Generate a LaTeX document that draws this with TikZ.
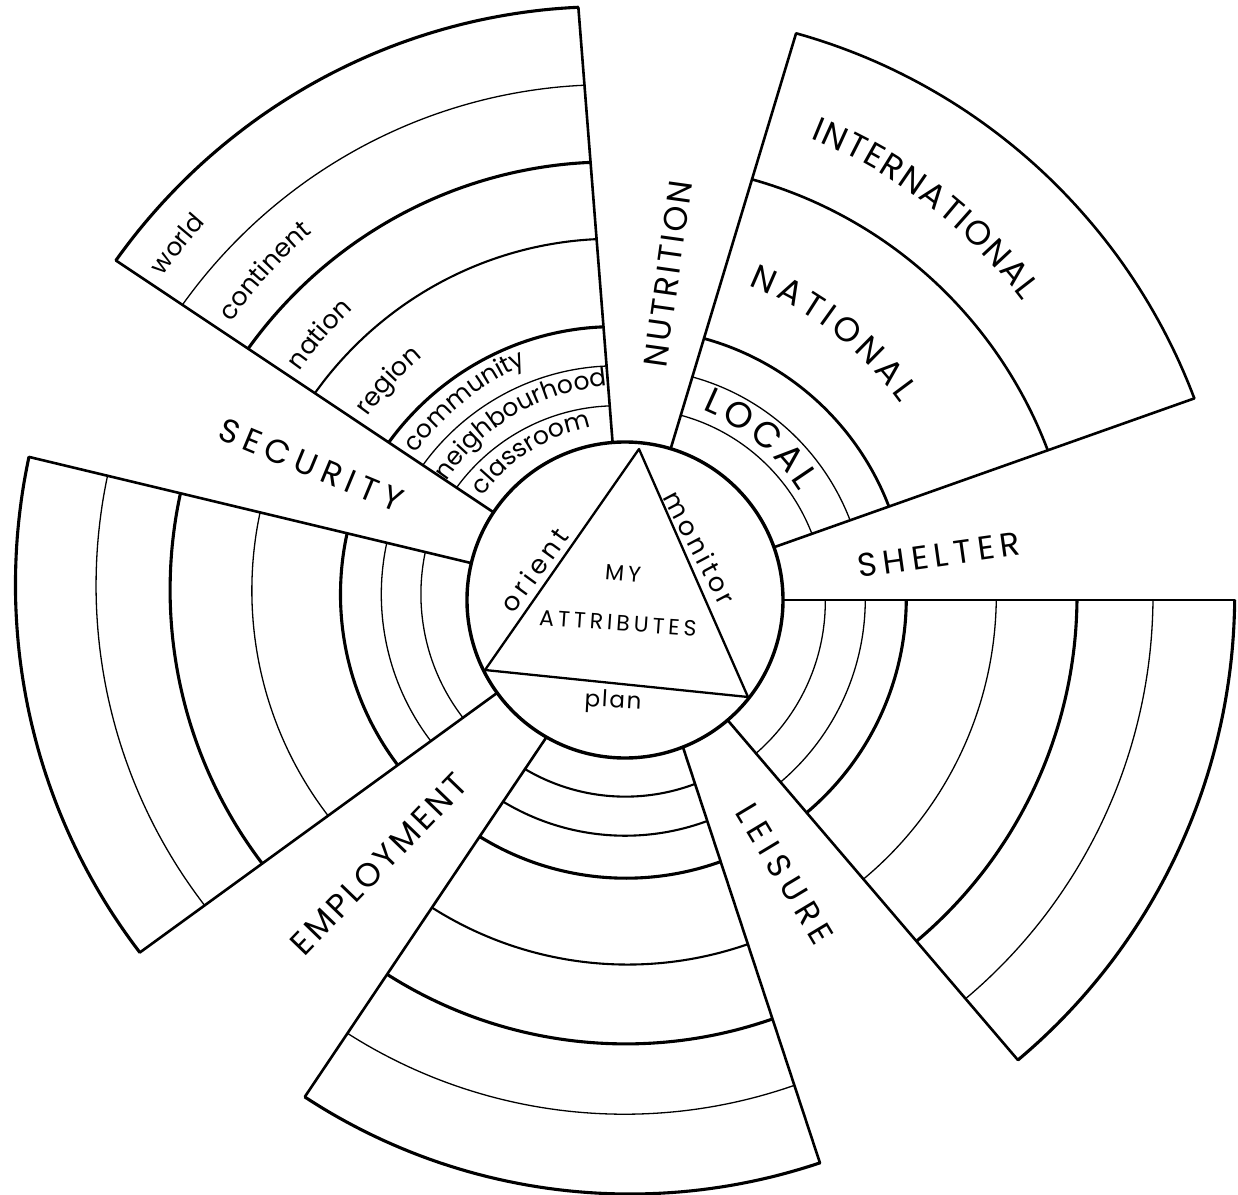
\documentclass[tikz,border=0pt]{standalone}
\usepackage{fontspec}
\IfFontExistsTF{Poppins}{\setmainfont{Poppins}}{\setmainfont{DejaVu Sans}}
\usetikzlibrary{decorations.text,calc}
% arc around the hub whose radius changes linearly from #3 (at angle #1) to #4 (at angle #2)
\newcommand\ringarc[5]{%
  \draw[#5] plot[domain=#1:#2, samples=60, variable=\t]
    (\t:{#3+(#4-(#3))*(\t-(#1))/((#2)-(#1))});}
% text spread along a clockwise arc: start angle, end angle, baseline radius, size, text
\newcommand\curvelab[5]{%
  \path[decorate, decoration={text along path, text align=fit to path,
     text={|\fontsize{#4}{#4}\selectfont|#5}}]
     ({#1}:#3) arc[start angle={#1}, end angle={#2}, radius=#3pt];}
% text centred on a clockwise arc: centre angle, baseline radius, half span, size, text
\newcommand\curvemid[5]{%
  \path[decorate, decoration={text along path, text align=center,
     text={|\fontsize{#4}{#4}\selectfont|#5}}]
     ({#1+#3}:#2) arc[start angle={#1+#3}, end angle={#1-#3}, radius=#2pt];}
\tikzset{
  thickarc/.style={line width=3.1pt},
  midarc/.style={line width=2.1pt},
  thinarc/.style={line width=1.3pt},
  edge/.style={line width=2.6pt, line cap=round},
  tri/.style={line width=2.3pt, line join=round},
  lab/.style={inner sep=0pt},
}
\begin{document}
\begin{tikzpicture}[x=1pt,y=1pt]
\useasboundingbox (-625,-594) rectangle (613,600);
\fill[white] (-625,-594) rectangle (613,600);

% ---------- hub ----------
\node[circle, draw, line width=3.4pt, minimum size=316pt, inner sep=0pt] (hub) at (0,0) {};
\coordinate (tA) at (14,151);
\coordinate (tB) at (-140,-70);
\coordinate (tC) at (123,-97);
\draw[tri] (tA) -- (tB) -- (tC) -- cycle;

% ---------- NW sector ----------
\draw[edge] (94.5:158) -- (94.5:594.6);
\draw[edge] (146.3:158) -- (146.3:612);
\ringarc{94.5}{146.3}{594.6}{612}{thickarc}
\ringarc{94.5}{146.3}{516.4}{532}{thinarc}
\ringarc{94.5}{146.3}{439}{453}{thickarc}
\ringarc{94.5}{146.3}{362}{372.8}{midarc}
\ringarc{94.5}{146.3}{274}{284}{thickarc}
\ringarc{94.5}{146.3}{234.7}{243}{thinarc}
\ringarc{94.5}{146.3}{194.7}{202.5}{thinarc}

% ---------- NE sector ----------
\draw[edge] (19.5:158) -- (19.5:604);
\draw[edge] (73.2:158) -- (73.2:592);
\ringarc{19.5}{73.2}{604}{592}{line width=2.6pt}
\ringarc{19.5}{73.2}{448.5}{439.4}{line width=2.6pt}
\ringarc{19.5}{73.2}{280}{273.2}{line width=2.8pt}
\ringarc{19.5}{73.2}{238.8}{233}{thinarc}
\ringarc{19.5}{73.2}{198.3}{193}{thinarc}

% ---------- SW sector ----------
\draw[edge] (166.5:158) -- (166.5:613);
\draw[edge] (216:158) -- (216:599.7);
\ringarc{166.5}{216}{613}{599.7}{thickarc}
\ringarc{166.5}{216}{532.2}{519.6}{thinarc}
\ringarc{166.5}{216}{457.2}{448.4}{thickarc}
\ringarc{166.5}{216}{375.3}{367}{thinarc}
\ringarc{166.5}{216}{285.8}{280.9}{thickarc}
\ringarc{166.5}{216}{245}{240}{thinarc}
\ringarc{166.5}{216}{205.4}{200.3}{thinarc}

% ---------- SE sector ----------
\draw[edge] (0:158) -- (0:609.7);
\draw[edge] (-49.5:158) -- (-49.5:605);
\ringarc{-49.5}{0}{605}{609.7}{thickarc}
\ringarc{-49.5}{0}{524.4}{528}{thinarc}
\ringarc{-49.5}{0}{448.8}{452}{thickarc}
\ringarc{-49.5}{0}{367.1}{371.3}{thinarc}
\ringarc{-49.5}{0}{279.7}{281.3}{thickarc}
\ringarc{-49.5}{0}{239.5}{240.3}{thinarc}
\ringarc{-49.5}{0}{201.7}{200.3}{thinarc}

% ---------- S sector ----------
\coordinate (sLi) at (240.2:158);
\coordinate (sLo) at (237.2:591);
\coordinate (sRi) at (291.5:158);
\coordinate (sRo) at (289.1:596);
\begin{scope}
  \clip ($(sLi)!-0.05!(sLo)$) -- ($(sLi)!1.1!(sLo)$) -- (264:700)
        -- ($(sRi)!1.1!(sRo)$) -- ($(sRi)!-0.05!(sRo)$) -- cycle;
  \ringarc{235}{293}{591}{596}{thickarc}
  \ringarc{235}{293}{514.6}{514}{thinarc}
  \ringarc{235}{293}{443.5}{444.2}{thickarc}
  \ringarc{235}{293}{363}{365.6}{midarc}
  \ringarc{235}{293}{277.6}{278.6}{thickarc}
  \ringarc{235}{293}{235.6}{235.8}{midarc}
  \ringarc{235}{293}{196.4}{196.8}{midarc}
\end{scope}
\draw[edge] (sLi) -- (sLo);
\draw[edge] (sRi) -- (sRo);

% ---------- gap labels ----------
\node[lab, rotate=82, font=\fontsize{33}{33}\selectfont\addfontfeatures{LetterSpace=8}] (nutrition) at (43,326) {NUTRITION};
\node[lab, rotate=-22.5, font=\fontsize{33}{33}\selectfont\addfontfeatures{LetterSpace=20}] (security) at (-314,135) {SECURITY};
\node[lab, rotate=8, font=\fontsize{33}{33}\selectfont\addfontfeatures{LetterSpace=18}] (shelter) at (314,45) {SHELTER};
\node[lab, rotate=-59, font=\fontsize{33}{33}\selectfont\addfontfeatures{LetterSpace=20}] (leisure) at (160,-274) {LEISURE};
\node[lab, rotate=46, font=\fontsize{33}{33}\selectfont\addfontfeatures{LetterSpace=9}] (employment) at (-246,-264) {EMPLOYMENT};

% ---------- hub labels ----------
\node[lab, rotate=-5, font=\fontsize{22}{22}\selectfont\addfontfeatures{LetterSpace=18}] (my) at (-2,27) {MY};
\node[lab, rotate=-4, font=\fontsize{22}{22}\selectfont\addfontfeatures{LetterSpace=18}] (attr) at (-7,-23) {ATTRIBUTES};
\node[lab, rotate=54, font=\fontsize{26}{26}\selectfont\addfontfeatures{LetterSpace=16}] (orient) at (-91,30) {orient};
\node[lab, rotate=-62, font=\fontsize{26}{26}\selectfont\addfontfeatures{LetterSpace=14}] (monitor) at (75,52) {monitor};
\node[lab, rotate=-3, font=\fontsize{23}{23}\selectfont\addfontfeatures{LetterSpace=8}] (plan) at (-12,-102) {plan};

% ---------- band labels ----------
\curvemid{141.5}{564}{25}{25}{world}
\curvemid{137.6}{482}{25}{25.5}{continent}
\curvemid{139.0}{398}{30}{25.5}{nation}
\curvemid{137.2}{316}{35}{25.5}{region}
\curvemid{128.9}{255}{50}{25}{community}
\curvemid{120.55}{214.6}{60}{25}{neighbourhood}
\curvemid{122.5}{176}{60}{25}{classroom}
\curvelab{68.1}{36.9}{497.5}{34}{INTERNATIONAL}
\curvelab{68.5}{35.5}{338}{34}{NATIONAL}
\curvelab{67.9}{31.9}{205}{36}{LOCAL}
\end{tikzpicture}
\end{document}
